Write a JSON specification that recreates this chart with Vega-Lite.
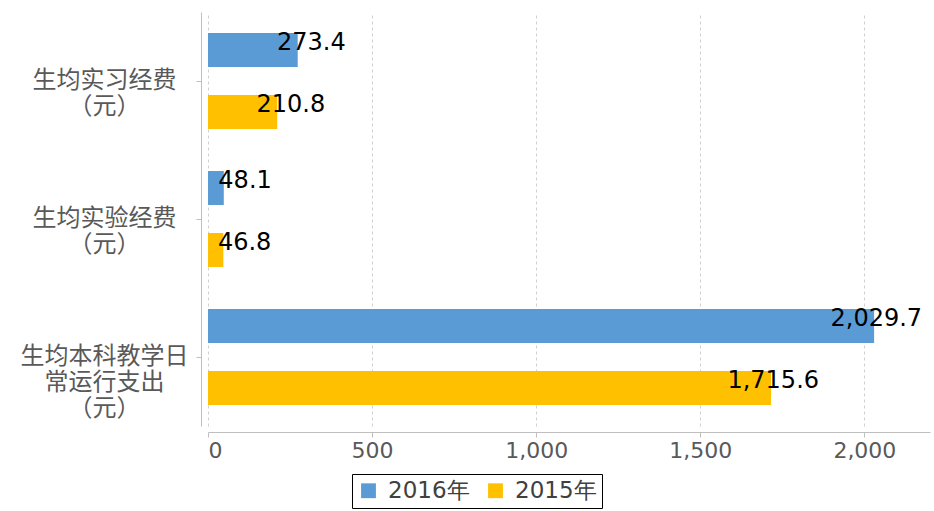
{
  "$schema": "https://vega.github.io/schema/vega-lite/v6.json",
  "width": 722,
  "height": 414,
  "autosize": {"type": "none"},
  "padding": {"left": 208, "top": 12, "right": 4, "bottom": 85},
  "background": "white",
  "config": {"view": {"stroke": null}},
  "data": {
    "values": [
      {"category": "生均实习经费\n（元）", "year": "2016年", "value": 273.4},
      {"category": "生均实习经费\n（元）", "year": "2015年", "value": 210.8},
      {"category": "生均实验经费\n（元）", "year": "2016年", "value": 48.1},
      {"category": "生均实验经费\n（元）", "year": "2015年", "value": 46.8},
      {"category": "生均本科教学日\n常运行支出\n（元）", "year": "2016年", "value": 2029.7},
      {"category": "生均本科教学日\n常运行支出\n（元）", "year": "2015年", "value": 1715.6}
    ]
  },
  "encoding": {
    "y": {
      "field": "category",
      "type": "nominal",
      "sort": null,
      "scale": {"paddingInner": 0, "paddingOuter": 0},
      "axis": {
        "title": null,
        "offset": 7,
        "domainColor": "#BFBFBF",
        "tickColor": "#BFBFBF",
        "tickSize": 5,
        "labelFont": "Noto Sans CJK SC",
        "labelFontSize": 24,
        "labelColor": "#595959",
        "labelAlign": "center",
        "labelBaseline": "middle",
        "labelLineHeight": 26,
        "labelPadding": 92,
        "labelLimit": 0,
        "labelExpr": "split(datum.label, '\\n')"
      }
    },
    "yOffset": {
      "field": "year",
      "type": "nominal",
      "sort": ["2016年", "2015年"],
      "scale": {"paddingInner": 0.4516, "paddingOuter": 0.339}
    },
    "x": {
      "field": "value",
      "type": "quantitative",
      "scale": {"domain": [0, 2200], "nice": false},
      "axis": {
        "title": null,
        "offset": 6,
        "values": [0, 500, 1000, 1500, 2000],
        "format": ",d",
        "grid": true,
        "gridDash": [3, 3],
        "gridColor": "#D0D0D0",
        "domainColor": "#BFBFBF",
        "tickColor": "#BFBFBF",
        "tickSize": 5,
        "labelFont": "DejaVu Sans",
        "labelFontSize": 22,
        "labelColor": "#595959",
        "labelPadding": 3
      }
    }
  },
  "layer": [
    {
      "mark": {"type": "bar"},
      "encoding": {
        "color": {
          "field": "year",
          "type": "nominal",
          "sort": ["2016年", "2015年"],
          "scale": {"domain": ["2016年", "2015年"], "range": ["#5B9BD5", "#FFC000"]},
          "legend": {
            "title": null,
            "orient": "none",
            "legendX": 144,
            "legendY": 462,
            "direction": "horizontal",
            "strokeColor": "#000000",
            "padding": 5,
            "symbolType": "square",
            "symbolSize": 220,
            "symbolStrokeWidth": 0,
            "labelFont": "DejaVu Sans",
            "labelFontSize": 23,
            "labelColor": "#404040",
            "columnPadding": 14,
            "labelOffset": 8
          }
        }
      }
    },
    {
      "mark": {
        "type": "text",
        "align": "right",
        "baseline": "alphabetic",
        "dx": 48,
        "font": "DejaVu Sans",
        "fontSize": 24,
        "color": "#000000"
      },
      "encoding": {
        "text": {"field": "value", "type": "quantitative", "format": ",.1f"}
      }
    }
  ]
}
